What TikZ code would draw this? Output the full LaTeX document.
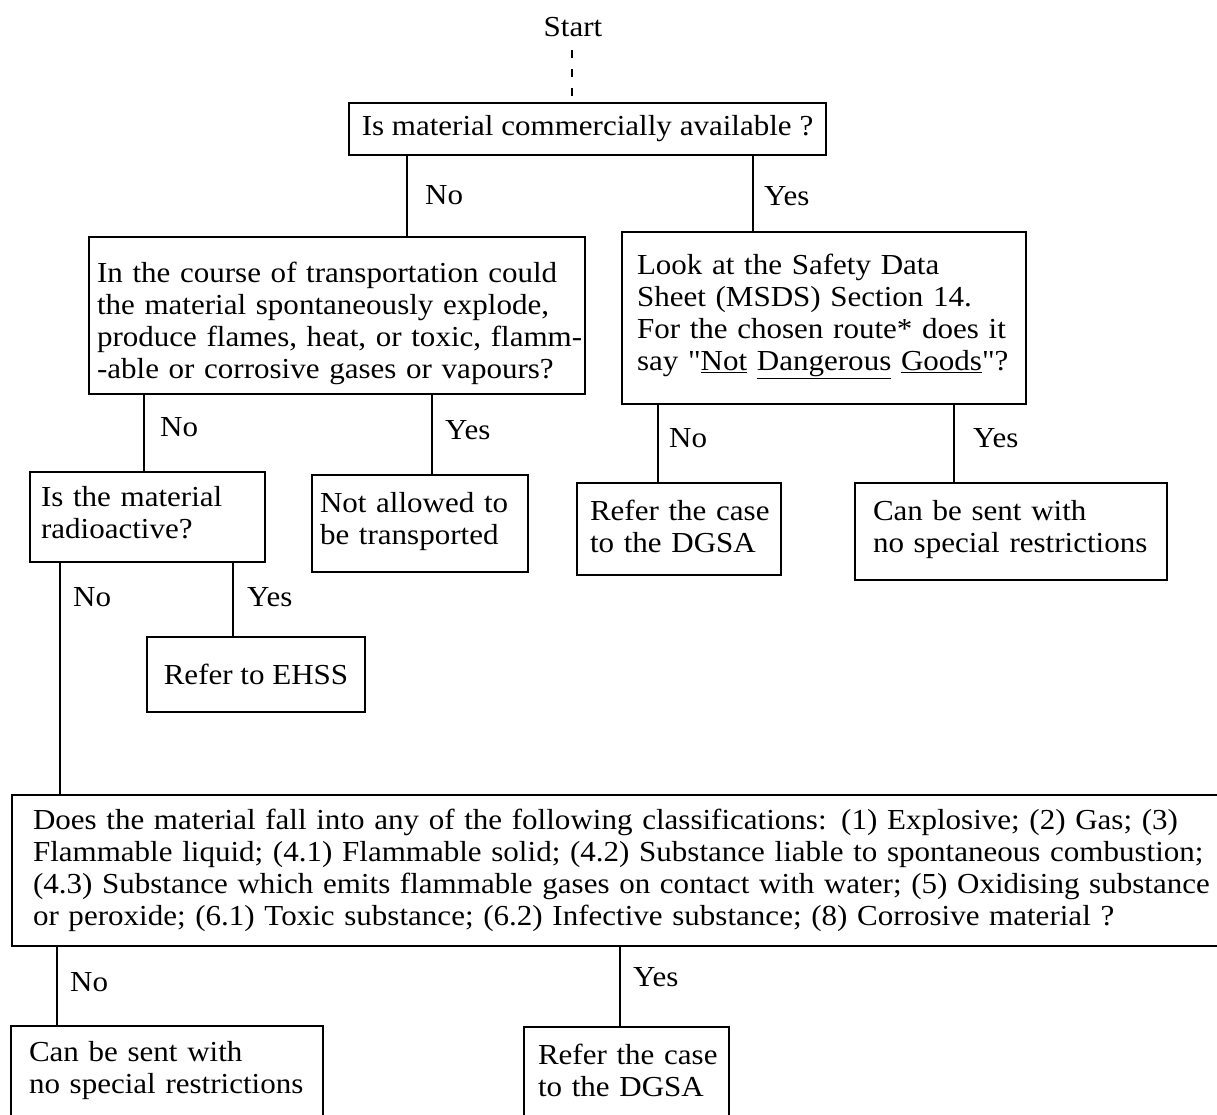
\documentclass[tikz,border=0pt]{standalone}
\usepackage{fontspec}
\setmainfont{Liberation Serif}[FakeStretch=1.07]
\newcommand{\fline}[1]{\mbox{#1}}
\newcommand{\sq}{{\addfontfeature{Ligatures=TeXOff}"}}
\tikzset{
  txt/.style={inner sep=0pt, font=\fontsize{29}{32}\selectfont},
  lbl/.style={txt, anchor=west},
  box/.style={draw, line width=2.8pt, inner ysep=0pt, font=\fontsize{29}{32}\selectfont},
  lbox/.style={box, align=left},
  conn/.style={line width=2.8pt},
  startline/.style={line width=2.2pt, dash pattern=on 8pt off 11pt},
}
\begin{document}
\begin{tikzpicture}[x=1pt,y=-1pt]
\useasboundingbox (0,0) rectangle (1217,1115);
\fill[white] (0,0) rectangle (1217,1115);
\clip (0,0) rectangle (1217,1115);

% line x positions
\coordinate (x0) at (572,0);
\coordinate (x1) at (407,0);
\coordinate (x2) at (753,0);
\coordinate (x3) at (144,0);
\coordinate (x4) at (432,0);
\coordinate (x5) at (658,0);
\coordinate (x6) at (954,0);
\coordinate (x7) at (60,0);
\coordinate (x8) at (233,0);
\coordinate (x9) at (57,0);
\coordinate (x10) at (620,0);

\node[txt] (start) at (573,27) {Start};

\node[box, align=center, inner xsep=0pt, minimum width=477, minimum height=52] (b1) at (587.5,129)
  {Is material commercially available ?};

\node[lbox, minimum width=496, minimum height=157, inner xsep=8pt, text width=480pt, text depth=86pt] (b2) at (337,315.5)
  {\fline{In the course of transportation could}\\
   \fline{the material spontaneously explode,}\\
   \fline{produce flames, heat, or toxic, flamm-}\\
   \fline{-able or corrosive gases or vapours?}};

\node[lbox, minimum width=404, minimum height=172, inner xsep=15pt, text width=374pt, text depth=107pt] (b3) at (824,318)
  {\fline{Look at the Safety Data}\\
   \fline{Sheet (MSDS) Section 14.}\\
   \fline{For the chosen route* does it}\\
   \fline{say \sq\underline{Not} \underline{Dangerous} \underline{Goods}\sq?}};

\node[lbox, minimum width=235, minimum height=90, inner xsep=11pt, text width=213pt, text depth=41pt] (b4) at (147.5,517)
  {\fline{Is the material}\\ \fline{radioactive?}};

\node[lbox, minimum width=216, minimum height=97, inner xsep=8pt, text width=200pt, text depth=42pt] (b5) at (420,523.5)
  {\fline{Not allowed to}\\ \fline{be transported}};

\node[lbox, minimum width=204, minimum height=92, inner xsep=13pt, text width=178pt, text depth=38pt] (b6) at (679,529)
  {\fline{Refer the case}\\ \fline{to the DGSA}};

\node[lbox, minimum width=312, minimum height=97, inner xsep=18pt, text width=276pt, text depth=43pt] (b7) at (1011,531.5)
  {\fline{Can be sent with}\\ \fline{no special restrictions}};

\node[box, align=center, inner xsep=0pt, minimum width=218, minimum height=75] (b8) at (256,674.5)
  {Refer to EHSS};

\node[lbox, minimum width=1260, minimum height=151, inner xsep=21pt, text width=1218pt, text depth=102pt] (b9) at (642,870.5)
  {\fline{Does the material fall into any of the following classifications: (1) Explosive; (2) Gas; (3)}\\
   \fline{Flammable liquid; (4.1) Flammable solid; (4.2) Substance liable to spontaneous combustion;}\\
   \fline{(4.3) Substance which emits flammable gases on contact with water; (5) Oxidising substance}\\
   \fline{or peroxide; (6.1) Toxic substance; (6.2) Infective substance; (8) Corrosive material ?}};

\node[lbox, minimum width=312, minimum height=130, inner xsep=18pt, text width=276pt, text depth=79pt] (b10) at (167,1091)
  {\fline{Can be sent with}\\ \fline{no special restrictions}};

\node[lbox, minimum width=205, minimum height=130, inner xsep=14pt, text width=177pt, text depth=76pt] (b11) at (626.5,1092)
  {\fline{Refer the case}\\ \fline{to the DGSA}};

% connectors
\path (start.south -| x0) ++(0,13) coordinate (ds);
\draw[startline] (ds) -- (b1.north -| x0);
\draw[conn] (b1.south -| x1) -- (b2.north -| x1);
\draw[conn] (b1.south -| x2) -- (b3.north -| x2);
\draw[conn] (b2.south -| x3) -- (b4.north -| x3);
\draw[conn] (b2.south -| x4) -- (b5.north -| x4);
\draw[conn] (b3.south -| x5) -- (b6.north -| x5);
\draw[conn] (b3.south -| x6) -- (b7.north -| x6);
\draw[conn] (b4.south -| x7) -- (b9.north -| x7);
\draw[conn] (b4.south -| x8) -- (b8.north -| x8);
\draw[conn] (b9.south -| x9) -- (b10.north -| x9);
\draw[conn] (b9.south -| x10) -- (b11.north -| x10);

% labels
\node[lbl] (n1) at (425,195) {No};
\node[lbl] (y1) at (764,196) {Yes};
\node[lbl] (n2) at (160,427) {No};
\node[lbl] (y2) at (445,430) {Yes};
\node[lbl] (n3) at (669,438) {No};
\node[lbl] (y3) at (973,438) {Yes};
\node[lbl] (n4) at (73,597) {No};
\node[lbl] (y4) at (247,597) {Yes};
\node[lbl] (n5) at (70,982) {No};
\node[lbl] (y5) at (633,977) {Yes};
\end{tikzpicture}
\end{document}
